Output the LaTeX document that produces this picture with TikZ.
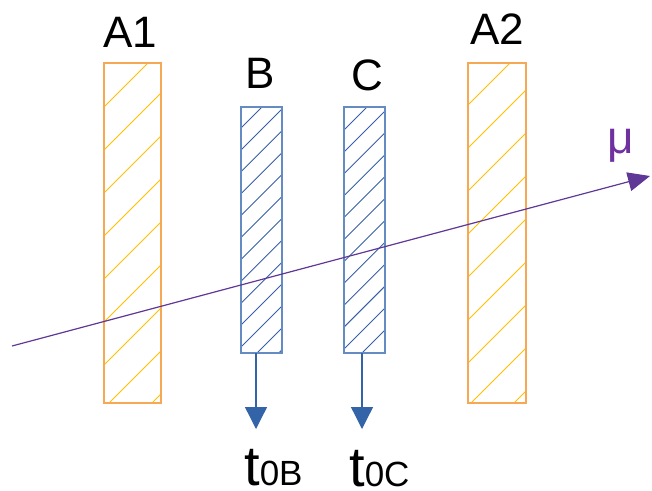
\documentclass[tikz,border=0pt]{standalone}
\usepackage{fontspec}
\setmainfont{Liberation Sans}
\usetikzlibrary{arrows.meta}

\definecolor{absframe}{RGB}{247,168,85}
\definecolor{abshatch}{RGB}{255,192,0}
\definecolor{detframe}{RGB}{100,140,195}
\definecolor{dethatch}{RGB}{55,95,165}
\definecolor{sigblue}{RGB}{52,100,168}
\definecolor{muonline}{RGB}{95,55,150}
\definecolor{muonlabel}{RGB}{112,48,160}

% diagonal hatching inside a rectangular node: #1 node, #2 first offset, #3 spacing, #4 colour
\newcommand\hatchbar[4]{%
  \begin{scope}
    \clip (#1.south west) rectangle (#1.north east);
    \foreach \k in {-2,...,30}{
      \pgfmathsetmacro\cc{#2+\k*#3}
      \draw[#4, line width=0.9pt] (\cc-0,0) -- (\cc-700,700);
    }
  \end{scope}}

\tikzset{
  absorber/.style={draw=absframe, line width=1.5pt, rectangle, inner sep=0pt, outer sep=0pt},
  detector/.style={draw=detframe, line width=1.3pt, rectangle, inner sep=0pt, outer sep=0pt},
  barname/.style={anchor=base, inner sep=0pt, font=\fontsize{44}{44}\selectfont},
  timename/.style={anchor=base west, inner sep=0pt, font=\fontsize{56}{56}\selectfont},
  sigarrow/.style={draw=sigblue, line width=1.3pt,
    -{Triangle[length=22pt, width=22pt, fill=sigblue]}},
}

\begin{document}
\begin{tikzpicture}[x=1pt, y=-1pt]
  \useasboundingbox (0,0) rectangle (652,490);

  % absorbers and detectors
  \node[absorber, minimum width=57pt, minimum height=340pt] (A1) at (132.5,233) {};
  \node[detector, minimum width=41pt, minimum height=246pt] (B) at (261.5,230) {};
  \node[detector, minimum width=41pt, minimum height=246pt] (C) at (364.5,230) {};
  \node[absorber, minimum width=58pt, minimum height=340pt] (A2) at (497,233) {};

  \hatchbar{A1}{211}{43}{abshatch}
  \hatchbar{A2}{573}{43}{abshatch}
  \hatchbar{B}{369}{21.9}{dethatch}
  \hatchbar{C}{474}{21.9}{dethatch}

  % redraw the frames over the hatching
  \draw[absframe, line width=1.5pt] (A1.south west) rectangle (A1.north east);
  \draw[absframe, line width=1.5pt] (A2.south west) rectangle (A2.north east);
  \draw[detframe, line width=1.3pt] (B.south west) rectangle (B.north east);
  \draw[detframe, line width=1.3pt] (C.south west) rectangle (C.north east);

  % labels
  \node[barname] (lA1) at (130.5,47) {A1};
  \node[barname] (lB)  at (260.5,88) {B};
  \node[barname] (lC)  at (367,90) {C};
  \node[barname] (lA2) at (497.5,44) {A2};

  % timing signals
  \coordinate (Bout) at (256,353);
  \coordinate (Cout) at (362,353);
  \coordinate (Bend) at (256,429);
  \coordinate (Cend) at (362,429);
  \draw[sigarrow] (Bout) -- (Bend);
  \draw[sigarrow] (Cout) -- (Cend);

  \node[timename] (tB) at (244,485) {t{\fontsize{35}{35}\selectfont 0B}};
  \node[timename] (tC) at (349,486) {t{\fontsize{35}{35}\selectfont 0C}};

  % muon track
  \coordinate (muStart) at (12,346);
  \coordinate (muEnd) at (650,176);
  \draw[muonline, line width=1.2pt,
    -{Triangle[length=22pt, width=19pt, fill=muonline]}] (muStart) -- (muEnd);
  \node[anchor=base, inner sep=0pt, text=muonlabel, font=\fontsize{46}{46}\selectfont]
    (mu) at (621,153) {μ};
\end{tikzpicture}
\end{document}
